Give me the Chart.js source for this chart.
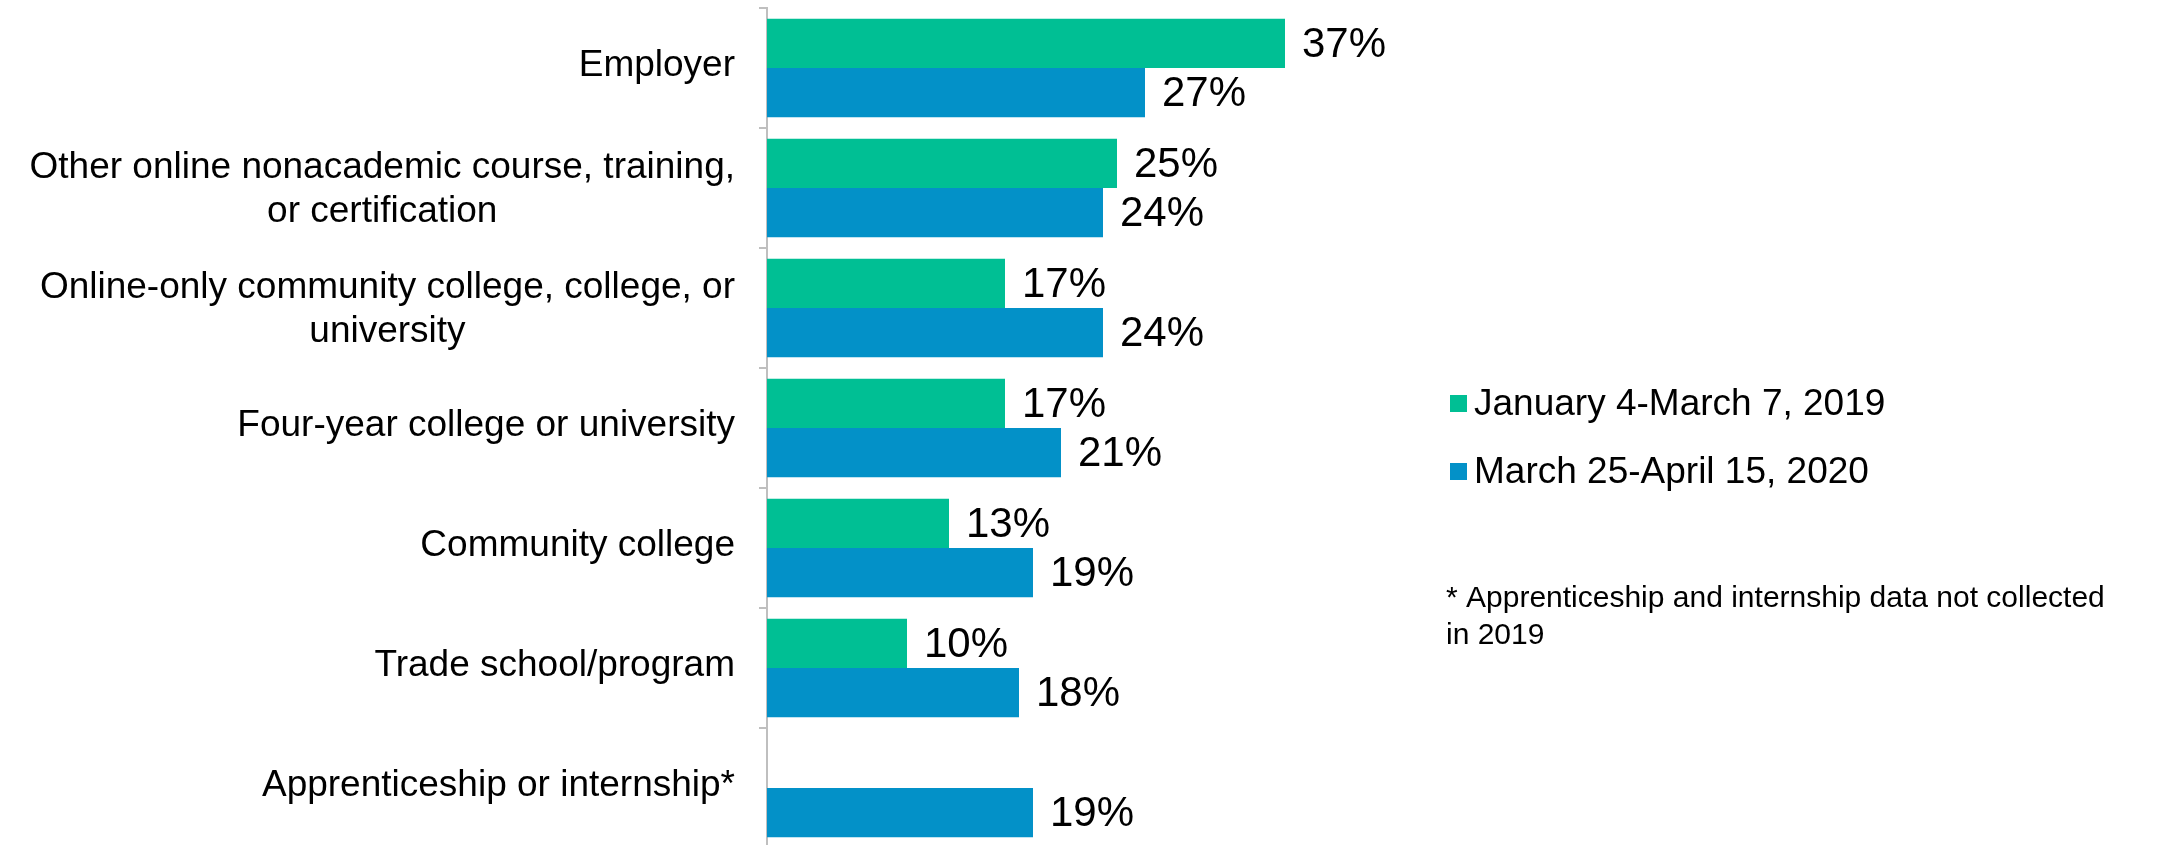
<!DOCTYPE html>
<html>
<head>
<meta charset="utf-8">
<script src="https://cdn.jsdelivr.net/npm/chart.js@4.4.1/dist/chart.umd.min.js"></script>
<style>
  html, body { margin: 0; padding: 0; background: #fff; overflow: hidden; }
  #wrap { position: relative; width: 2174px; height: 848px; }
</style>
</head>
<body>
<div id="wrap"><canvas id="chart"></canvas></div>
<script>
// categories, top to bottom
var categories = [
  "Employer",
  ["Other online nonacademic course, training,", "or certification"],
  ["Online-only community college, college, or", "university"],
  "Four-year college or university",
  "Community college",
  "Trade school/program",
  "Apprenticeship or internship*"
];
var seriesNames = ["January 4-March 7, 2019", "March 25-April 15, 2020"];
var values2019 = [37, 25, 17, 17, 13, 10, null];
var values2020 = [27, 24, 24, 21, 19, 18, 19];
var noteLines = ["* Apprenticeship and internship data not collected", "in 2019"];

var colors = ["#00BF94", "#0391C8"];
var FONT = "'Liberation Sans', Arial, Helvetica, sans-serif";

// category labels: block right-aligned to the axis, lines centered inside the block
var labelPlugin = {
  id: 'catLabels',
  afterDraw: function (chart) {
    var ctx = chart.ctx;
    var yScale = chart.scales.y;
    var lh = 44;
    ctx.save();
    ctx.font = "37px " + FONT;
    ctx.fillStyle = "#000";
    ctx.textAlign = "center";
    ctx.textBaseline = "middle";
    categories.forEach(function (lab, i) {
      var lines = Array.isArray(lab) ? lab : [lab];
      var maxW = 0;
      lines.forEach(function (l) { maxW = Math.max(maxW, ctx.measureText(l).width); });
      var cx = 735 - maxW / 2;
      var y = yScale.getPixelForTick(i) + (lines.length - 1) * 3.5 - 2;
      lines.forEach(function (l, j) {
        ctx.fillText(l, cx, y + (j - (lines.length - 1) / 2) * lh);
      });
    });
    ctx.restore();
  }
};

// value labels at the end of each bar
var valuePlugin = {
  id: 'valueLabels',
  afterDatasetsDraw: function (chart) {
    var ctx = chart.ctx;
    ctx.save();
    ctx.font = "42px " + FONT;
    ctx.fillStyle = "#000";
    ctx.textAlign = "left";
    ctx.textBaseline = "middle";
    chart.data.datasets.forEach(function (ds, di) {
      var meta = chart.getDatasetMeta(di);
      meta.data.forEach(function (el, i) {
        var v = ds.data[i];
        if (v === null || v === undefined) return;
        ctx.fillText(v + "%", el.x + 17, el.y + 2);
      });
    });
    ctx.restore();
  }
};

// legend and footnote on the right
var legendPlugin = {
  id: 'sideLegend',
  afterDraw: function (chart) {
    var ctx = chart.ctx;
    ctx.save();
    ctx.textAlign = "left";
    ctx.textBaseline = "middle";
    ctx.font = "37px " + FONT;
    var rows = [403, 471];
    chart.data.datasets.forEach(function (ds, i) {
      ctx.fillStyle = ds.backgroundColor;
      ctx.fillRect(1450, rows[i] - 8, 17, 17);
      ctx.fillStyle = "#000";
      ctx.fillText(ds.label, 1474, rows[i] + 2);
    });
    ctx.font = "30px " + FONT;
    ctx.textBaseline = "alphabetic";
    noteLines.forEach(function (l, j) {
      ctx.fillText(l, 1446, 607 + j * 37);
    });
    ctx.restore();
  }
};

new Chart(document.getElementById("chart"), {
  type: 'bar',
  data: {
    labels: categories,
    datasets: [
      { label: seriesNames[0], data: values2019, backgroundColor: colors[0] },
      { label: seriesNames[1], data: values2020, backgroundColor: colors[1] }
    ]
  },
  options: {
    indexAxis: 'y',
    responsive: true,
    maintainAspectRatio: false,
    animation: false,
    events: [],
    layout: { padding: { top: 8, right: 707, bottom: 0, left: 0 } },
    datasets: { bar: { categoryPercentage: 0.82, barPercentage: 1.0 } },
    plugins: { legend: { display: false }, tooltip: { enabled: false } },
    scales: {
      x: { display: false, min: 0, max: 50 },
      y: {
        afterFit: function (scale) { scale.width = 767; },
        border: { display: true, color: '#BFBFBF', width: 2 },
        grid: { offset: true, drawOnChartArea: false, drawTicks: true, tickLength: 8, color: '#BFBFBF', lineWidth: 2 },
        ticks: { display: false }
      }
    }
  },
  plugins: [labelPlugin, valuePlugin, legendPlugin]
});
</script>
</body>
</html>
